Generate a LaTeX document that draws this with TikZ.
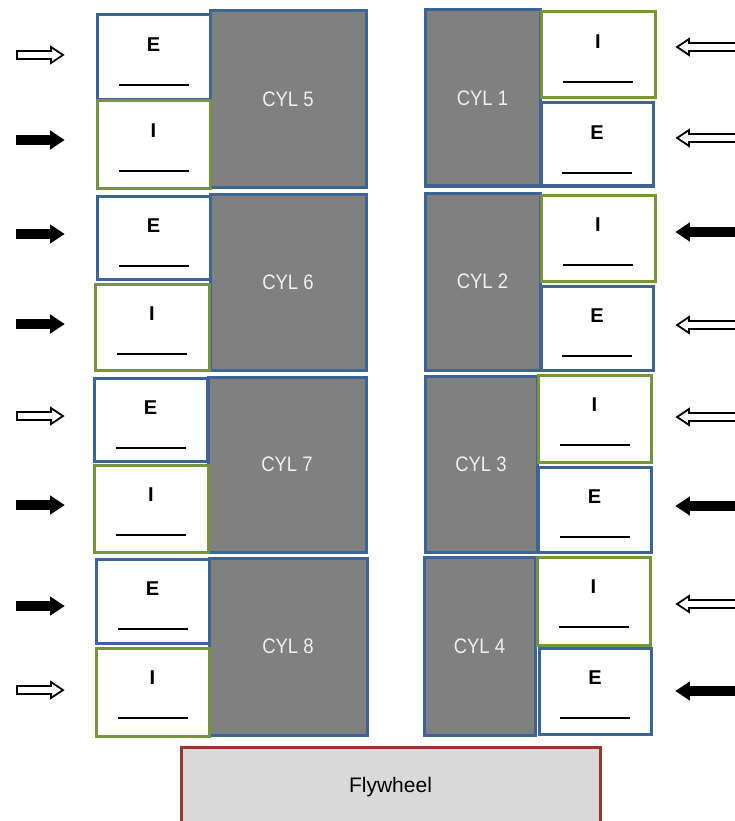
\documentclass[tikz,border=0pt]{standalone}
\usepackage{fontspec}
\setmainfont{Liberation Sans}
\newfontfamily\cylfont[FakeStretch=0.88]{Liberation Sans}
\usetikzlibrary{calc}
\definecolor{cylblue}{HTML}{3C6496}
\definecolor{cylgray}{HTML}{808080}
\definecolor{valvegreen}{HTML}{77933C}
\definecolor{flyred}{HTML}{953735}
\definecolor{flygray}{HTML}{D9D9D9}
\tikzset{
 cylstyle/.style={draw=cylblue, fill=cylgray, line width=3pt, inner sep=0pt, outer sep=0pt, text=white!94!black, font=\cylfont\fontsize{21}{21}\selectfont},
 exhstyle/.style={draw=cylblue, fill=white, line width=3pt, inner sep=0pt, outer sep=0pt},
 inlstyle/.style={draw=valvegreen, fill=white, line width=3pt, inner sep=0pt, outer sep=0pt},
 letterstyle/.style={font=\bfseries\fontsize{20}{20}\selectfont, inner sep=0pt},
 ulinestyle/.style={line width=1.5pt, draw=black},
 openarrow/.style={draw=black, fill=white, line width=1.8pt, line join=miter},
 fullarrow/.style={draw=black, fill=black, line width=1.8pt, line join=miter},
 flystyle/.style={draw=flyred, fill=flygray, line width=3pt, inner sep=0pt, outer sep=0pt, font=\fontsize{21}{21}\selectfont},
}
% name, x1, y1, x2, y2, text
\newcommand\cylbox[6]{%
 \node[cylstyle, minimum width={#4-#2}, minimum height={#5-#3}] (#1) at ({(#2+#4)/2},{(#3+#5)/2}) {#6};}
% name, x1, y1, x2, y2, style, letter
\newcommand\valvebox[7]{%
 \node[#6, minimum width={#4-#2}, minimum height={#5-#3}] (#1) at ({(#2+#4)/2},{(#3+#5)/2}) {};
 \node[letterstyle] (#1l) at ($(#1.north)+(0,30)$) {#7};
 \draw[ulinestyle] ($(#1.north)+(-35,70)$) coordinate (#1a) -- ($(#1.north)+(35,70)$) coordinate (#1b);}
% y, style : arrow pointing right on the left side
\newcommand\rarrow[2]{\path[#2] (17,{#1-4}) -- (51,{#1-4}) -- (51,{#1-8}) -- (63,#1) -- (51,{#1+8}) -- (51,{#1+4}) -- (17,{#1+4}) -- cycle;}
% y, style : arrow pointing left on the right side
\newcommand\larrow[2]{\path[#2] (677,#1) -- (689,{#1-8}) -- (689,{#1-4}) -- (745,{#1-4}) -- (745,{#1+4}) -- (689,{#1+4}) -- (689,{#1+8}) -- cycle;}
\begin{document}
\begin{tikzpicture}[x=1pt,y=-1pt]
\useasboundingbox (0,0) rectangle (735,821);
\clip (0,0) rectangle (735,821);
\fill[white] (0,0) rectangle (735,821);
% left bank
\cylbox{c5}{210}{11}{366}{187}{CYL 5}
\valvebox{e5}{97}{15}{210}{100}{exhstyle}{E}
\valvebox{i5}{97}{101}{210}{188}{inlstyle}{I}
\cylbox{c6}{210}{194}{366}{370}{CYL 6}
\valvebox{e6}{97}{196}{210}{279}{exhstyle}{E}
\valvebox{i6}{95}{284}{209}{370}{inlstyle}{I}
\cylbox{c7}{208}{377}{366}{552}{CYL 7}
\valvebox{e7}{94}{378}{207}{461}{exhstyle}{E}
\valvebox{i7}{94}{465}{208}{552}{inlstyle}{I}
\cylbox{c8}{209}{558}{367}{735}{CYL 8}
\valvebox{e8}{96}{559}{209}{643}{exhstyle}{E}
\valvebox{i8}{96}{648}{209}{736}{inlstyle}{I}
% right bank
\cylbox{c1}{425}{10}{540}{186}{CYL 1}
\valvebox{i1}{541}{12}{655}{98}{inlstyle}{I}
\valvebox{e1}{541}{103}{653}{186}{exhstyle}{E}
\cylbox{c2}{425}{193}{540}{370}{CYL 2}
\valvebox{i2}{541}{195}{655}{281}{inlstyle}{I}
\valvebox{e2}{541}{286}{653}{370}{exhstyle}{E}
\cylbox{c3}{425}{376}{537}{552}{CYL 3}
\valvebox{i3}{538}{375}{651}{462}{inlstyle}{I}
\valvebox{e3}{538}{467}{651}{552}{exhstyle}{E}
\cylbox{c4}{424}{557}{535}{735}{CYL 4}
\valvebox{i4}{537}{557}{650}{645}{inlstyle}{I}
\valvebox{e4}{539}{648}{651}{734}{exhstyle}{E}
% flywheel
\node[flystyle, minimum width=419, minimum height=80] (fly) at (390.5,787) {Flywheel};
% left arrows
\rarrow{55}{openarrow}
\rarrow{140}{fullarrow}
\rarrow{234}{fullarrow}
\rarrow{324}{fullarrow}
\rarrow{416}{openarrow}
\rarrow{505}{fullarrow}
\rarrow{606}{fullarrow}
\rarrow{690}{openarrow}
% right arrows
\larrow{47}{openarrow}
\larrow{138}{openarrow}
\larrow{232}{fullarrow}
\larrow{325}{openarrow}
\larrow{417}{openarrow}
\larrow{506}{fullarrow}
\larrow{604}{openarrow}
\larrow{691}{fullarrow}
\end{tikzpicture}
\end{document}
